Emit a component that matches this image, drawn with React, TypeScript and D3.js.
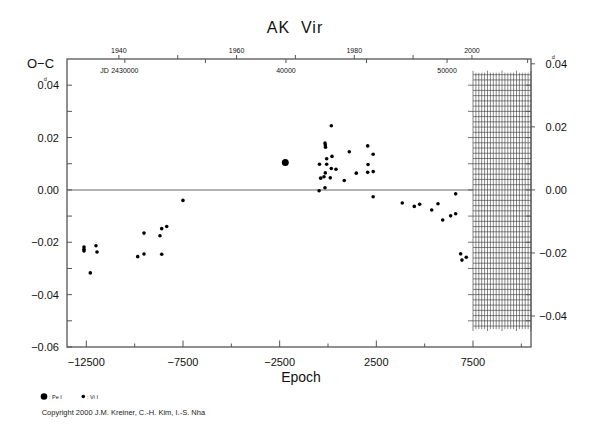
import React, { useEffect, useRef } from 'react'
import * as d3 from 'd3'

// O-C values: visual (Vi I) and photoelectric (Pe I) minima
const viEpoch = [
  -12621, -12621, -12621, -12000, -11948, -12295, -9843, -9517, -9517, -8690,
  -8602, -8343, -8602, -7502, 170, -156, -140, -130, 1101, 2052,
  2337, 206, -69, -440, -69, 2070, 170, 413, 1463, 2052,
  2340, -140, -208, -378, 118, 842, -460, -156, 2337, 3842,
  4463, 4742, 5363, 5689, 5932, 6345, 6604, 6604, 6862, 7151, 6929,
]
const viOC = [
  -0.0218, -0.0227, -0.0233, -0.0213, -0.0237, -0.0317, -0.0255, -0.0245, -0.0165, -0.0175,
  -0.0148, -0.014, -0.0246, -0.004, 0.0245, 0.0179, 0.0172, 0.0163, 0.0146, 0.0168,
  0.0136, 0.0128, 0.0119, 0.0098, 0.0098, 0.0097, 0.0082, 0.0079, 0.0064, 0.0067,
  0.007, 0.0065, 0.005, 0.0045, 0.0046, 0.0036, -0.0003, 0.0008, -0.0026, -0.005,
  -0.0063, -0.0055, -0.0077, -0.0053, -0.0115, -0.0099, -0.0091, -0.0015, -0.0244, -0.0257, -0.0268,
]
const peEpoch = [-2209]
const peOC = [0.0105]

const bottomMajor = [-12500, -7500, -2500, 2500, 7500]
const bottomMinor = [-10000, -5000, 0, 5000, 10000]
const leftTicks = [-0.06, -0.05, -0.04, -0.03, -0.02, -0.01, 0, 0.01, 0.02, 0.03, 0.04]
const leftLabels = [-0.06, -0.04, -0.02, 0, 0.02, 0.04]
const rightLabels = [-0.04, -0.02, 0, 0.02, 0.04]
const yearTicks = [1940, 1950, 1960, 1970, 1980, 1990, 2000]
const yearLabels = [1940, 1960, 1980, 2000]
const jdTicks = [2430000, 2435000, 2440000, 2445000, 2450000, 2455000]
const jdLabels = [
  { jd: 2430000, text: '2430000' },
  { jd: 2440000, text: '40000' },
  { jd: 2450000, text: '50000' },
]
// hatched block at the right edge
const hatchEpoch = [7500, 10500]
const hatchOC = [-0.052, 0.044]

const P = 1.2
const JD0 = 2442610
const jdToEpoch = (jd: number) => (jd - JD0) / P
const yearToEpoch = (yr: number) => jdToEpoch(2451545 + (yr - 2000) * 365.25)

const FONT = '"Liberation Sans", Arial, Helvetica, sans-serif'

const App = () => {
  const svg = useRef<SVGSVGElement>(null)

  useEffect(() => {
    const g = d3.select(svg.current)
    g.selectAll('*').remove()

    const x = d3.scaleLinear().domain([-13500, 10500]).range([67, 531])
    const y = d3.scaleLinear().domain([-0.06, 0.05]).range([347, 59])
    const y2 = d3.scaleLinear().domain(y.domain().map(v => v / 1.204)).range(y.range())
    const axisColor = '#555'

    // zero line
    g.append('line')
      .attr('x1', x(-13500)).attr('x2', x(hatchEpoch[0]))
      .attr('y1', y(0)).attr('y2', y(0))
      .attr('stroke', '#999').attr('stroke-width', 1.5)

    // hatched block
    const hatch = g.append('g').attr('stroke', '#333').attr('stroke-width', 0.6)
    const hx = d3.range(hatchEpoch[0], hatchEpoch[1] + 1, 150)
    hatch.selectAll('.hv').data(hx).enter().append('line')
      .attr('x1', d => x(d)).attr('x2', d => x(d))
      .attr('y1', (d, i) => y(hatchOC[1]) - (i % 5 === 0 ? 4 : 2))
      .attr('y2', (d, i) => y(hatchOC[0]) + (i % 5 === 0 ? 5 : 3))
    const hy = d3.range(0, 49).map(i => hatchOC[0] + i * 0.002)
    hatch.selectAll('.hh').data(hy).enter().append('line')
      .attr('x1', x(hatchEpoch[0])).attr('x2', x(hatchEpoch[1]))
      .attr('y1', d => y(d)).attr('y2', d => y(d))
    // little ticks on the left edge of the block
    hatch.selectAll('.hl').data(leftTicks.filter(v => v > -0.055 && v < 0.045)).enter().append('line')
      .attr('x1', x(hatchEpoch[0]) - 5).attr('x2', x(hatchEpoch[0]))
      .attr('y1', d => y(d)).attr('y2', d => y(d))
      .attr('stroke', axisColor).attr('stroke-width', 0.8)

    // frame
    const frame = g.append('g').attr('stroke', axisColor).attr('stroke-width', 1.3).attr('fill', 'none')
    frame.append('rect')
      .attr('x', x(-13500)).attr('y', y(0.05))
      .attr('width', x(10500) - x(-13500)).attr('height', y(-0.06) - y(0.05))

    const ticks = g.append('g').attr('stroke', axisColor).attr('stroke-width', 1)
    // bottom ticks
    ticks.selectAll('.bM').data(bottomMajor).enter().append('line')
      .attr('x1', d => x(d)).attr('x2', d => x(d))
      .attr('y1', y(-0.06)).attr('y2', y(-0.06) - 6.5)
    ticks.selectAll('.bm').data(bottomMinor).enter().append('line')
      .attr('x1', d => x(d)).attr('x2', d => x(d))
      .attr('y1', y(-0.06)).attr('y2', y(-0.06) - 3.5)
    // left ticks
    ticks.selectAll('.l').data(leftTicks).enter().append('line')
      .attr('x1', x(-13500)).attr('x2', x(-13500) + 5)
      .attr('y1', d => y(d)).attr('y2', d => y(d))
    // right ticks: inner on the left scale, outer on the right scale
    ticks.selectAll('.ri').data(leftTicks.filter(v => v > -0.06)).enter().append('line')
      .attr('x1', x(10500)).attr('x2', x(10500) - 5)
      .attr('y1', d => y(d)).attr('y2', d => y(d))
    ticks.selectAll('.ro').data(rightLabels).enter().append('line')
      .attr('x1', x(10500)).attr('x2', x(10500) + 4)
      .attr('y1', d => y2(d)).attr('y2', d => y2(d))
    // top ticks: years outward, JD inward
    ticks.selectAll('.ty').data(yearTicks).enter().append('line')
      .attr('x1', d => x(yearToEpoch(d))).attr('x2', d => x(yearToEpoch(d)))
      .attr('y1', y(0.05)).attr('y2', y(0.05) - 4)
    ticks.selectAll('.tj').data(jdTicks).enter().append('line')
      .attr('x1', d => x(jdToEpoch(d))).attr('x2', d => x(jdToEpoch(d)))
      .attr('y1', y(0.05)).attr('y2', y(0.05) + 4)

    const txt = g.append('g').attr('font-family', FONT).attr('fill', '#111')
    const fmt = (v: number) => (v < 0 ? '\u2212' : '') + Math.abs(v).toFixed(2)

    // value label with a superscript "d" over the decimal point
    const dayLabel = (sel: any, xPos: number, yPos: number) => {
      const t = sel.append('text').attr('x', xPos).attr('y', yPos)
        .attr('text-anchor', 'end').attr('font-size', 11)
      t.append('tspan').text('0')
      t.append('tspan').attr('font-size', 5.5).attr('dy', -8.5).attr('dx', -0.1).text('d')
      t.append('tspan').attr('dy', 8.5).attr('dx', -3).text('.04')
    }

    // left labels
    txt.selectAll('.ll').data(leftLabels.filter(v => v !== 0.04)).enter().append('text')
      .attr('x', 59).attr('y', d => y(d) + 4)
      .attr('text-anchor', 'end').attr('font-size', 11)
      .text(d => fmt(d))
    dayLabel(txt, 59, y(0.04) + 4)
    // right labels
    txt.selectAll('.rl').data(rightLabels.filter(v => v !== 0.04)).enter().append('text')
      .attr('x', 567).attr('y', d => y2(d) + 4)
      .attr('text-anchor', 'end').attr('font-size', 11)
      .text(d => fmt(d))
    dayLabel(txt, 567, y2(0.04) + 4)
    // bottom labels
    txt.selectAll('.bl').data(bottomMajor).enter().append('text')
      .attr('x', d => x(d)).attr('y', 365.8)
      .attr('text-anchor', 'middle').attr('font-size', 11)
      .text(d => (d < 0 ? '\u2212' : '') + Math.abs(d))
    // top labels
    txt.selectAll('.yl').data(yearLabels).enter().append('text')
      .attr('x', d => x(yearToEpoch(d))).attr('y', 52.7)
      .attr('text-anchor', 'middle').attr('font-size', 7)
      .text(d => d)
    txt.selectAll('.jl').data(jdLabels).enter().append('text')
      .attr('x', d => x(jdToEpoch(d.jd))).attr('y', 72.7)
      .attr('text-anchor', 'middle').attr('font-size', 7)
      .text(d => d.text)
    txt.append('text').attr('x', x(jdToEpoch(2430000)) - 16).attr('y', 72.7)
      .attr('text-anchor', 'end').attr('font-size', 7).text('JD')

    // titles
    txt.append('text').attr('x', 295).attr('y', 33.3)
      .attr('text-anchor', 'middle').attr('font-size', 16).attr('letter-spacing', 1)
      .style('white-space', 'pre').text('AK  Vir')
    txt.append('text').attr('x', 27).attr('y', 68)
      .attr('font-size', 13).text('O\u2212C')
    txt.append('text').attr('x', 301).attr('y', 381.5)
      .attr('text-anchor', 'middle').attr('font-size', 14).text('Epoch')

    // points
    const vi = viEpoch.map((e, i) => ({ e, oc: viOC[i] }))
    const pe = peEpoch.map((e, i) => ({ e, oc: peOC[i] }))
    g.selectAll('.vi').data(vi).enter().append('circle')
      .attr('cx', d => x(d.e)).attr('cy', d => y(d.oc)).attr('r', 1.8).attr('fill', '#000')
    g.selectAll('.pe').data(pe).enter().append('circle')
      .attr('cx', d => x(d.e)).attr('cy', d => y(d.oc)).attr('r', 3.5).attr('fill', '#000')

    // legend + copyright
    g.append('circle').attr('cx', 44).attr('cy', 396.5).attr('r', 3.3).attr('fill', '#000')
    txt.append('text').attr('x', 49).attr('y', 398.5).attr('font-size', 5.5).text(': Pe I')
    g.append('circle').attr('cx', 83.3).attr('cy', 396.5).attr('r', 1.8).attr('fill', '#000')
    txt.append('text').attr('x', 87).attr('y', 398.5).attr('font-size', 5.5).text(': Vi I')
    txt.append('text').attr('x', 41.7).attr('y', 414.5).attr('font-size', 7.5)
      .attr('fill', '#222').text('Copyright 2000 J.M. Kreiner, C.-H. Kim, I.-S. Nha')
  }, [])

  return (
    <svg
      ref={svg}
      width={590}
      height={425}
      style={{ position: 'absolute', left: 0, top: 0, background: '#fff' }}
    ></svg>
  )
}

export default App
